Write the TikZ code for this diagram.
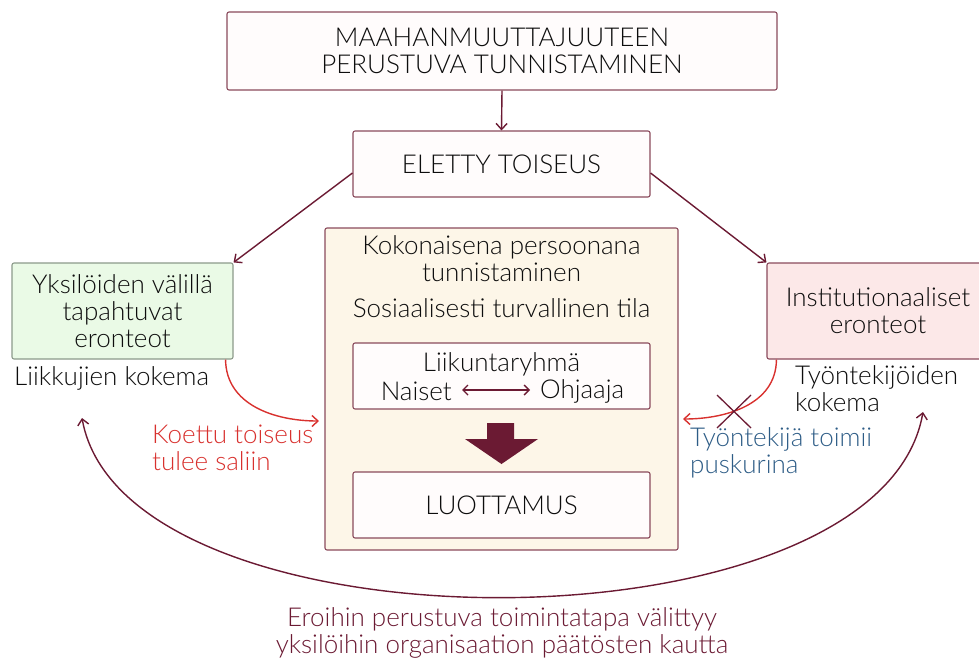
\documentclass[tikz,border=0pt]{standalone}
\usepackage{fontspec}
\IfFontExistsTF{Lato Light}{\setmainfont{Lato Light}}{\setmainfont{Lato}}
\usetikzlibrary{arrows.meta}
\definecolor{maroon}{HTML}{6B1A33}
\definecolor{boxline}{HTML}{8A4A5C}
\definecolor{greenfill}{HTML}{EAFAE6}
\definecolor{greenline}{HTML}{8C9A8A}
\definecolor{pinkfill}{HTML}{FCE8E8}
\definecolor{creamfill}{HTML}{FDF6E8}
\definecolor{boxfill}{HTML}{FFFCFC}
\definecolor{redtxt}{HTML}{D8312E}
\definecolor{bluetxt}{HTML}{2D5C86}
\tikzset{
  base/.style={font=\fontsize{26}{27}\selectfont, text=black!95},
  box/.style={base, draw=boxline, line width=1.1pt, rounded corners=2pt, fill=boxfill,
    align=center, inner sep=0pt},
  plain/.style={base, align=center, inner sep=0pt},
  conn/.style={draw=maroon, line width=1.4pt, -{Straight Barb[length=6pt,width=11pt]}},
  redconn/.style={draw=redtxt, line width=1.4pt, -{Straight Barb[length=6pt,width=11pt]}},
}
\begin{document}
\begin{tikzpicture}[x=1pt,y=-1pt]
\useasboundingbox (0,0) rectangle (979,661);

% upper chain
\node[box, minimum width=550pt, minimum height=78pt] (top) at (502,51)
  {MAAHANMUUTTAJUUTEEN\\PERUSTUVA TUNNISTAMINEN};
\node[box, minimum width=297pt, minimum height=66pt] (eletty) at (501.5,164) {ELETTY TOISEUS};
\draw[conn] (top.south) -- (eletty.north);

% side boxes
\node[box, fill=greenfill, draw=greenline, minimum width=221pt, minimum height=96pt] (ind) at (122.5,311)
  {Yksilöiden välillä\\tapahtuvat\\eronteot};
\node[box, fill=pinkfill, minimum width=222pt, minimum height=96pt] (inst) at (878,311)
  {Institutionaaliset\\eronteot};
\node[plain, anchor=west] (liikkujat) at (14,378) {Liikkujien kokema};
\node[plain, anchor=north west, align=left] (tyont) at (795,365) {Työntekijöiden\\kokema};

\draw[conn] (eletty.west |- 0,173) -- (ind.north east);
\draw[conn] (eletty.east |- 0,173) -- (inst.north west);

% central space
\node[box, fill=creamfill, minimum width=353pt, minimum height=322pt] (tila) at (501.5,389) {};
\node[plain] (koko) at (501.5,259) {Kokonaisena persoonana\\tunnistaminen};
\node[plain] (turva) at (501.5,308) {Sosiaalisesti turvallinen tila};
\node[box, minimum width=297pt, minimum height=66pt] (ryhma) at (501.5,376) {};
\node[plain] (liik) at (501.5,364) {Liikuntaryhmä};
\node[plain, anchor=east] (naiset) at (452,391) {Naiset};
\node[plain, anchor=west] (ohjaaja) at (540,391) {Ohjaaja};
\draw[draw=maroon, line width=1.4pt, {Straight Barb[length=5pt,width=10pt]}-{Straight Barb[length=5pt,width=10pt]}]
  ([xshift=10pt,yshift=1pt]naiset.east) -- ([xshift=-10pt,yshift=1pt]ohjaaja.west);
\node[box, minimum width=297pt, minimum height=66pt] (luott) at (501.5,505) {LUOTTAMUS};
\fill[maroon] (487,423) -- (514,423) -- (514,439) -- (538,439) -- (501.5,464)
  -- (465,439) -- (487,439) -- cycle;

% experiences entering the hall
\coordinate (inL) at (319,421);
\coordinate (inR) at (683,419);
\draw[redconn] (ind.south east) ++(-8pt,0) .. controls (226,405) and (275,421) .. (inL);
\draw[redconn] (inst.south west) ++(10pt,0) .. controls (776,405) and (725,419) .. (inR);
\node[plain, anchor=north west, align=left, text=redtxt] (koettu) at (152,425) {Koettu toiseus\\tulee saliin};
\node[plain, anchor=north west, align=left, text=bluetxt] (pusk) at (690,427) {Työntekijä toimii\\puskurina};
\draw[maroon, line width=1.3pt] (717,395) -- (751,428) (751,395) -- (717,428);

% feedback loop
\coordinate (loopL) at (82,418);
\coordinate (loopR) at (923,412);
\draw[draw=maroon, line width=1.4pt, {Straight Barb[length=6pt,width=11pt]}-{Straight Barb[length=6pt,width=11pt]}]
  (loopL) .. controls (125,658) and (880,658) .. (loopR);
\node[plain, text=maroon] (bottom) at (502,633) {Eroihin perustuva toimintatapa välittyy\\yksilöihin organisaation päätösten kautta};
\end{tikzpicture}
\end{document}
